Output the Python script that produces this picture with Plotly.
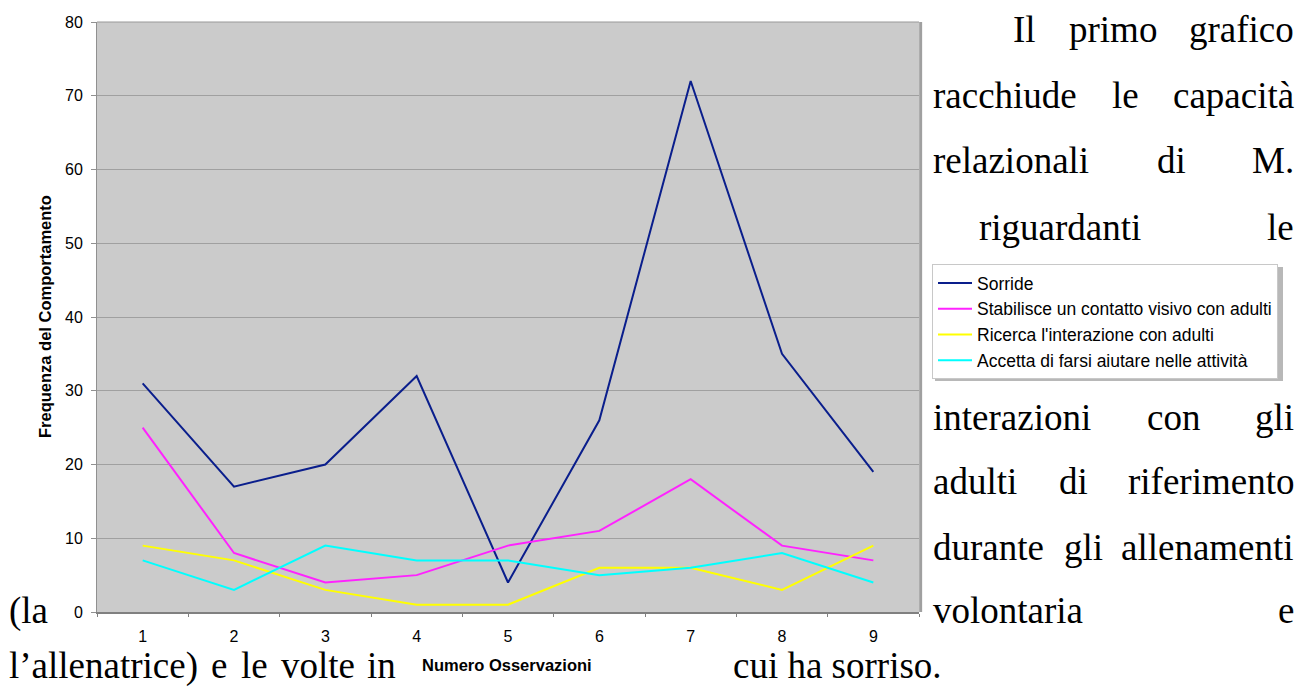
import plotly.graph_objects as go

# Observation numbers and behaviour frequencies
observations = [1, 2, 3, 4, 5, 6, 7, 8, 9]
sorride = [31, 17, 20, 32, 4, 26, 72, 35, 19]
contatto_visivo = [25, 8, 4, 5, 9, 11, 18, 9, 7]
ricerca_interazione = [9, 7, 3, 1, 1, 6, 6, 3, 9]
accetta_aiuto = [7, 3, 9, 7, 7, 5, 6, 8, 4]

series_names = [
    "Sorride",
    "Stabilisce un contatto visivo con adulti",
    "Ricerca l'interazione con adulti",
    "Accetta di farsi aiutare nelle attività",
]
series_values = [sorride, contatto_visivo, ricerca_interazione, accetta_aiuto]
series_colors = ["#0A1E8C", "#FF22FF", "#FFFF00", "#00FFFF"]

y_ticks = [0, 10, 20, 30, 40, 50, 60, 70, 80]
x_title = "Numero Osservazioni"
y_title = "Frequenza del Comportamento"

# Surrounding paragraph text: (word, x px, baseline px, anchor)
body_words = [
    ("Il", 1012, 42, "left"), ("primo", 1068, 42, "left"), ("grafico", 1295, 42, "right"),
    ("racchiude", 932, 108, "left"), ("le", 1111, 108, "left"), ("capacità", 1295, 108, "right"),
    ("relazionali", 932, 173, "left"), ("di", 1156, 173, "left"), ("M.", 1295, 173, "right"),
    ("riguardanti", 978, 240, "left"), ("le", 1295, 240, "right"),
    ("interazioni", 932, 430, "left"), ("con", 1146, 430, "left"), ("gli", 1295, 430, "right"),
    ("adulti", 932, 494, "left"), ("di", 1058, 494, "left"), ("riferimento", 1295, 494, "right"),
    ("durante", 932, 560, "left"), ("gli", 1063, 560, "left"), ("allenamenti", 1295, 560, "right"),
    ("(la", 8, 623, "left"), ("volontaria", 932, 623, "left"), ("e", 1295, 623, "right"),
    ("l\u2019allenatrice)", 8, 678, "left"), ("e", 210, 678, "left"), ("le", 240, 678, "left"),
    ("volte", 280, 678, "left"), ("in", 397, 678, "right"), ("cui ha sorriso.", 732, 678, "left"),
]

W, H = 1307, 690
PL, PR, PT, PB = 97, 919, 22, 612
BODY_SIZE = 37


def px_x(px):
    return (px - PL) / (PR - PL)


def px_y(py):
    return (PB - py) / (PB - PT)


fig = go.Figure()
for name, vals, col in zip(series_names, series_values, series_colors):
    fig.add_trace(go.Scatter(
        x=observations, y=vals, name=name, mode="lines",
        line=dict(color=col, width=2),
    ))

annotations = []
for word, x, base, anchor in body_words:
    annotations.append(dict(
        text=word, x=px_x(x), y=px_y(base - 0.3375 * BODY_SIZE),
        xref="paper", yref="paper", xanchor=anchor, yanchor="middle",
        showarrow=False, borderpad=0,
        font=dict(family="Liberation Serif", size=BODY_SIZE, color="black"),
    ))

annotations.append(dict(
    text=f"<b>{y_title}</b>", x=px_x(45), y=px_y(317), xref="paper", yref="paper",
    textangle=-90, showarrow=False, xanchor="center", yanchor="middle",
    font=dict(family="Liberation Sans", size=16.5, color="black"),
))
annotations.append(dict(
    text=f"<b>{x_title}</b>", x=px_x(507), y=px_y(665), xref="paper", yref="paper",
    showarrow=False, xanchor="center", yanchor="middle",
    font=dict(family="Liberation Sans", size=16.5, color="black"),
))

shapes = [
    # legend drop shadow
    dict(type="rect", xref="paper", yref="paper",
         x0=px_x(935), x1=px_x(1283), y0=px_y(267), y1=px_y(381),
         fillcolor="#B8B8B8", line=dict(width=0), layer="below"),
    # plot frame: top edge and right edge
    dict(type="line", xref="paper", yref="paper", x0=0, x1=1, y0=1, y1=1,
         line=dict(color="#999999", width=1)),
    dict(type="line", xref="paper", yref="paper", x0=1.002, x1=1.002, y0=0, y1=1,
         line=dict(color="#A0A0A0", width=3)),
]

fig.update_layout(
    width=W, height=H,
    margin=dict(l=PL, r=W - PR, t=PT, b=H - PB, pad=0),
    paper_bgcolor="white", plot_bgcolor="#CBCBCB",
    font=dict(family="Liberation Sans", color="black"),
    showlegend=True,
    legend=dict(
        x=px_x(932), y=px_y(264), xanchor="left", yanchor="top",
        bgcolor="white", bordercolor="#C8C8C8", borderwidth=1,
        font=dict(family="Liberation Sans", size=17.5, color="black"),
        itemwidth=34,
    ),
    annotations=annotations,
    shapes=shapes,
    xaxis=dict(
        range=[0.5, 9.5], tickmode="array", tickvals=observations,
        ticktext=[str(v) for v in observations],
        showgrid=False, zeroline=False,
        showline=True, linecolor="#808080", linewidth=2,
        ticks="", ticklabelstandoff=9,
        tickfont=dict(family="Liberation Sans", size=16, color="black"),
        minor=dict(ticks="outside", tick0=0.5, dtick=1, ticklen=3,
                   tickcolor="#808080", showgrid=False),
    ),
    yaxis=dict(
        range=[0, 80], tickmode="array", tickvals=y_ticks,
        showgrid=True, gridcolor="#A0A0A0", gridwidth=1, zeroline=False,
        showline=True, linecolor="#909090", linewidth=1,
        ticks="outside", ticklen=5, tickcolor="#909090",
        ticklabelstandoff=5,
        tickfont=dict(family="Liberation Sans", size=16, color="black"),
    ),
)

fig.write_html("out.html")
